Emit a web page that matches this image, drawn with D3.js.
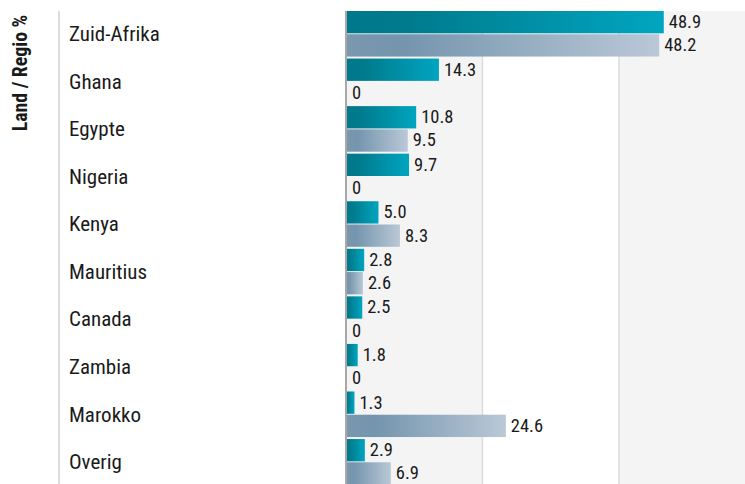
<!DOCTYPE html>
<html>
<head>
<meta charset="utf-8">
<script src="https://cdn.jsdelivr.net/npm/d3@7"></script>
<style>
  body { margin: 0; background: #fff; }
  text { font-family: "Roboto Condensed", Roboto, sans-serif; fill: #1a1a1a; }
</style>
</head>
<body>
<svg id="chart" width="745" height="484"></svg>
<script>
var categories = ["Zuid-Afrika", "Ghana", "Egypte", "Nigeria", "Kenya", "Mauritius", "Canada", "Zambia", "Marokko", "Overig"];
var seriesA = [48.9, 14.3, 10.8, 9.7, 5.0, 2.8, 2.5, 1.8, 1.3, 2.9];
var seriesB = [48.2, 0, 9.5, 0, 8.3, 2.6, 0, 0, 24.6, 6.9];
var gridValues = [21, 42];
var axisTitle = "Land / Regio %";

var svg = d3.select("#chart"),
  margin = { top: 11, right: 0, bottom: -2.6, left: 346 },
  width = +svg.attr("width"),
  height = +svg.attr("height");

var x = d3.scaleLinear()
  .domain([0, 61.4])
  .range([margin.left, width - margin.right]);

var y = d3.scaleBand()
  .domain(categories)
  .range([margin.top, height - margin.bottom]);

var sub = d3.scaleBand()
  .domain(["a", "b"])
  .range([0, y.bandwidth() - 2])
  .paddingInner(0.04);

var defs = svg.append("defs");

var gA = defs.append("linearGradient").attr("id", "gradA");
gA.append("stop").attr("offset", "0%").attr("stop-color", "#00788b");
gA.append("stop").attr("offset", "18%").attr("stop-color", "#007a8c");
gA.append("stop").attr("offset", "100%").attr("stop-color", "#00a5c0");

var gB = defs.append("linearGradient").attr("id", "gradB");
gB.append("stop").attr("offset", "0%").attr("stop-color", "#7a98ae");
gB.append("stop").attr("offset", "18%").attr("stop-color", "#7495ad");
gB.append("stop").attr("offset", "100%").attr("stop-color", "#bac8d7");

// background bands
var bandEdges = [0].concat(gridValues).concat([x.domain()[1]]);
svg.append("g")
  .selectAll("rect")
  .data(d3.pairs(bandEdges))
  .enter()
  .append("rect")
  .attr("x", (d) => x(d[0]))
  .attr("y", margin.top)
  .attr("width", (d) => x(d[1]) - x(d[0]))
  .attr("height", height - margin.top)
  .style("fill", (d, i) => (i % 2 === 0 ? "#f4f4f4" : "#ffffff"));

svg.append("g")
  .selectAll("line")
  .data(gridValues)
  .enter()
  .append("line")
  .attr("x1", (d) => x(d))
  .attr("x2", (d) => x(d))
  .attr("y1", margin.top)
  .attr("y2", height)
  .style("stroke", "#dcdcdc")
  .attr("stroke-width", 1.5);

// left divider
svg.append("line")
  .attr("x1", 59).attr("x2", 59)
  .attr("y1", margin.top).attr("y2", height)
  .style("stroke", "#dddddd")
  .attr("stroke-width", 2);

var rows = categories.map((c, i) => ({ cat: c, a: seriesA[i], b: seriesB[i] }));

var row = svg.append("g")
  .selectAll("g")
  .data(rows)
  .enter()
  .append("g")
  .attr("transform", (d) => "translate(0," + y(d.cat) + ")");

row.append("text")
  .attr("x", 69)
  .attr("y", y.bandwidth() / 2 - 1)
  .attr("dy", "0.35em")
  .attr("font-size", 21)
  .text((d) => d.cat);

["a", "b"].forEach(function (k) {
  row.append("rect")
    .attr("x", x(0))
    .attr("y", sub(k))
    .attr("width", (d) => x(d[k]) - x(0))
    .attr("height", sub.bandwidth())
    .style("fill", k === "a" ? "url(#gradA)" : "url(#gradB)");

  row.append("text")
    .attr("x", (d) => x(d[k]) + (d[k] === 0 ? 6 : 5))
    .attr("y", sub(k) + sub.bandwidth() / 2 - 0.5)
    .attr("dy", "0.35em")
    .attr("font-size", 18.5)
    .text((d) => (d[k] === 0 ? "0" : d3.format(".1f")(d[k])));
});

// axis line
svg.append("line")
  .attr("x1", x(0)).attr("x2", x(0))
  .attr("y1", margin.top).attr("y2", height)
  .style("stroke", "#a8a8a8")
  .attr("stroke-width", 2);

svg.append("text")
  .attr("transform", "translate(27,73) rotate(-90)")
  .attr("text-anchor", "middle")
  .attr("font-size", 19.8)
  .attr("font-weight", "bold")
  .text(axisTitle);
</script>
</body>
</html>
